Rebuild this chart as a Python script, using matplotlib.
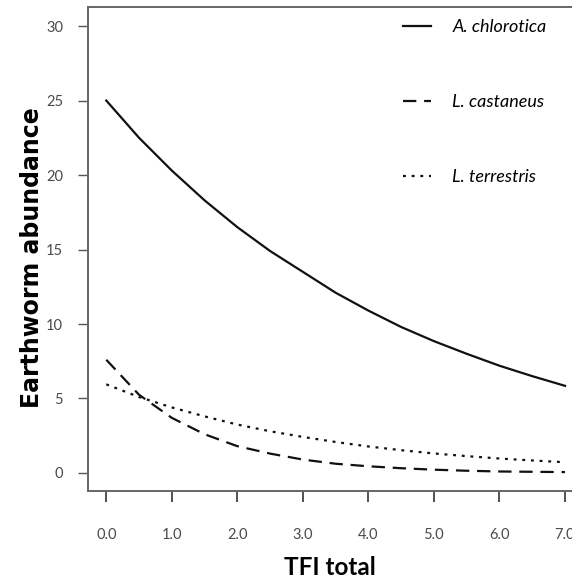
import matplotlib
matplotlib.use("Agg")
import matplotlib.pyplot as plt

tfi = [0.0, 0.5, 1.0, 1.5, 2.0, 2.5, 3.0, 3.5, 4.0, 4.5, 5.0, 5.5, 6.0, 6.5, 7.0]
a_chlorotica = [25.0, 22.5, 20.3, 18.3, 16.5, 14.9, 13.5, 12.1, 10.9, 9.8, 8.85, 8.0, 7.2, 6.5, 5.85]
l_castaneus = [7.6, 5.25, 3.7, 2.6, 1.8, 1.3, 0.9, 0.62, 0.45, 0.32, 0.22, 0.15, 0.1, 0.08, 0.06]
l_terrestris = [5.95, 5.1, 4.4, 3.8, 3.25, 2.8, 2.42, 2.08, 1.78, 1.53, 1.31, 1.13, 0.97, 0.84, 0.72]

xticks = [0, 1, 2, 3, 4, 5, 6, 7]
xticklabels = ["0.0", "1.0", "2.0", "3.0", "4.0", "5.0", "6.0", "7.0"]
yticks = [0, 5, 10, 15, 20, 25, 30]
yticklabels = ["0", "5", "10", "15", "20", "25", "30"]

TICKFONT = "Lato"

W, H = 572, 583
fig = plt.figure(figsize=(W / 100, H / 100), dpi=100)
ax = fig.add_axes([88 / W, 1 - 491 / H, 1 - 88 / W, (491 - 7) / H])

ax.plot(tfi, a_chlorotica, color="#111111", lw=1.6, ls="-", label="A. chlorotica")
ax.plot(tfi, l_castaneus, color="#111111", lw=1.6, ls=(0, (6, 3.5)), label="L. castaneus")
ax.plot(tfi, l_terrestris, color="#111111", lw=1.6, ls=(0, (1.3, 2.6)), label="L. terrestris")

ax.set_xlim(-0.279, 7.107)
ax.set_ylim(-1.21, 31.28)

ax.spines["right"].set_visible(False)
for s in ["left", "top", "bottom"]:
    ax.spines[s].set_color("#666666")
    ax.spines[s].set_linewidth(1.4)

ax.set_xticks(xticks)
ax.set_xticklabels(xticklabels, fontfamily=TICKFONT, fontsize=10.5, color="#4a4a4a")
ax.set_yticks(yticks)
ax.set_yticklabels(yticklabels, fontfamily=TICKFONT, fontsize=10.5, color="#4a4a4a")
ax.tick_params(axis="x", length=8, width=1.2, color="#333333", pad=18.5)
ax.tick_params(axis="y", length=7, width=1.0, color="#555555", pad=11)

ax.set_xlabel("TFI total", fontfamily="Lato", fontweight="bold", fontsize=17.5)
ax.xaxis.set_label_coords(0.5, -0.134)
ax.set_ylabel("Earthworm abundance", fontfamily="DejaVu Sans", fontweight="bold",
              fontsize=17)
ax.yaxis.set_label_coords(-0.090, 0.483)

leg = ax.legend(loc="upper right", bbox_to_anchor=(0.973, 1.0), frameon=False,
                prop={"family": "Lato", "style": "italic", "size": 13},
                handlelength=1.55, handletextpad=1.17, labelspacing=3.26, borderaxespad=0.28)

fig.savefig("out.png", dpi=100)
